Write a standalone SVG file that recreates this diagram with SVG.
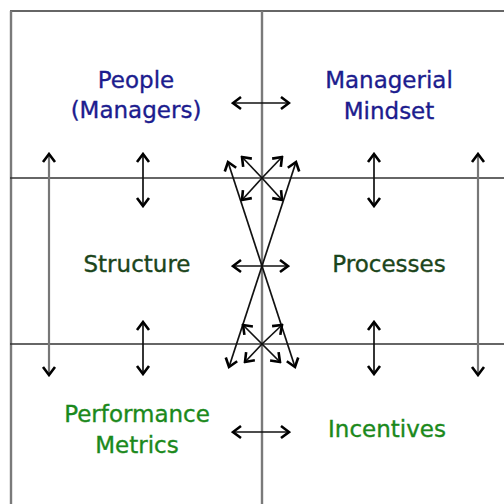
<svg xmlns="http://www.w3.org/2000/svg" width="504" height="504" viewBox="0 0 504 504">
<style>
.t{font-family:"DejaVu Sans",Verdana,sans-serif;font-size:23px;text-anchor:middle;stroke-width:0.35px}
.blue{fill:#1c1c8e;stroke:#1c1c8e}
.dg{fill:#1b451b;stroke:#1b451b}
.lg{fill:#1b891b;stroke:#1b891b}
.grid{stroke:#333;stroke-width:1.6;fill:none}
.gv{stroke:#7a7a7a;stroke-width:2.4;fill:none}
.a{stroke:#111;stroke-width:1.7;fill:none;marker-start:url(#h);marker-end:url(#h)}
.e{stroke:#111;stroke-width:1.7;fill:none;marker-end:url(#h)}
.ag{stroke:#777;stroke-width:2.2;fill:none;marker-start:url(#h);marker-end:url(#h)}
</style>
<defs>
<marker id="h" viewBox="-10 -8 12 16" refX="0" refY="0" markerWidth="12" markerHeight="16" markerUnits="userSpaceOnUse" orient="auto-start-reverse">
<path d="M-8,-6 L0,0 L-8,6" fill="none" stroke="#000" stroke-width="2.6"/>
</marker>
</defs>
<rect width="504" height="504" fill="#fff"/>
<g id="grid">
<line class="grid" x1="10" y1="11" x2="504" y2="11"/>
<line class="gv" x1="11" y1="11" x2="11" y2="504"/>
<line class="gv" x1="262" y1="11" x2="262" y2="504"/>
<line class="grid" x1="10" y1="178" x2="504" y2="178"/>
<line class="grid" x1="10" y1="344" x2="504" y2="344"/>
</g>
<g id="connectors">
<line class="ag" x1="49" y1="154" x2="49" y2="375"/>
<line class="ag" x1="478" y1="154" x2="478" y2="375"/>
<line class="a" x1="143" y1="154" x2="143" y2="206"/>
<line class="a" x1="374" y1="154" x2="374" y2="206"/>
<line class="a" x1="143" y1="322" x2="143" y2="374"/>
<line class="a" x1="374" y1="322" x2="374" y2="374"/>
<line class="a" x1="233" y1="103" x2="289" y2="103"/>
<line class="a" x1="233" y1="266" x2="288" y2="266"/>
<line class="a" x1="233" y1="432" x2="289" y2="432"/>
<line class="a" x1="228" y1="162" x2="295" y2="367"/>
<line class="a" x1="296" y1="162" x2="229" y2="367"/>
<line class="e" x1="262" y1="178" x2="242" y2="157"/>
<line class="e" x1="262" y1="178" x2="282" y2="157"/>
<line class="e" x1="262" y1="178" x2="242" y2="200"/>
<line class="e" x1="262" y1="178" x2="282" y2="200"/>
<line class="e" x1="262" y1="344" x2="243" y2="325"/>
<line class="e" x1="262" y1="344" x2="282" y2="325"/>
<line class="e" x1="262" y1="344" x2="245" y2="362"/>
<line class="e" x1="262" y1="344" x2="280" y2="362"/>
</g>
<g id="people"><text class="t blue" x="136" y="88">People</text><text class="t blue" x="136" y="118">(Managers)</text></g>
<g id="mindset"><text class="t blue" x="389" y="88">Managerial</text><text class="t blue" x="389" y="119">Mindset</text></g>
<g id="structure"><text class="t dg" x="137" y="272">Structure</text></g>
<g id="processes"><text class="t dg" x="389" y="272">Processes</text></g>
<g id="metrics"><text class="t lg" x="137" y="422">Performance</text><text class="t lg" x="137" y="453">Metrics</text></g>
<g id="incentives"><text class="t lg" x="387" y="437">Incentives</text></g>
</svg>
